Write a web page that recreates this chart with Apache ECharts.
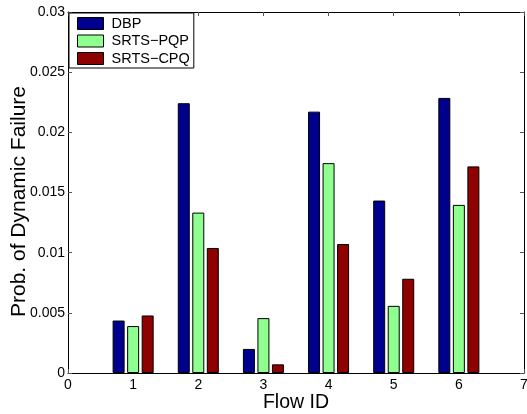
<!DOCTYPE html>
<html>
<head>
<meta charset="utf-8">
<script src="https://cdn.jsdelivr.net/npm/echarts@6/dist/echarts.min.js"></script>
<style>
  html, body { margin: 0; padding: 0; background: #fff; }
  #chart { width: 527px; height: 414px; }
</style>
</head>
<body>
<div id="chart"></div>
<script>
// Flow IDs and per-scheme probability of dynamic failure
const flowIds = [1, 2, 3, 4, 5, 6];
const seriesNames = ['DBP', 'SRTS\u2212PQP', 'SRTS\u2212CPQ'];
const dbp     = [0.00436, 0.02242, 0.00200, 0.02172, 0.01433, 0.02286];
const srtsPqp = [0.00390, 0.01333, 0.00456, 0.01744, 0.00558, 0.01397];
const srtsCpq = [0.00478, 0.01039, 0.00072, 0.01072, 0.00783, 0.01717];
const colors  = ['#00008f', '#8fff8f', '#8f0000'];

const FONT = '"Liberation Sans", Arial, Helvetica, sans-serif';

const pairs = vals => flowIds.map((id, i) => [id, vals[i]]);

const chart = echarts.init(document.getElementById('chart'), null, { renderer: 'canvas' });

const axisLine = { show: true, onZero: false, lineStyle: { color: '#000', width: 1 } };
const tickStyle = { show: true, inside: true, length: 4, lineStyle: { color: '#555', width: 1 } };

chart.setOption({
  animation: false,
  backgroundColor: '#fff',
  textStyle: { fontFamily: FONT },
  grid: { left: 68, top: 12, right: 3, bottom: 41, containLabel: false, outerBoundsMode: 'none' },
  legend: {
    data: seriesNames,
    orient: 'vertical',
    left: 69, top: 13,
    backgroundColor: '#fff',
    borderColor: '#000', borderWidth: 1,
    padding: [3, 4, 2, 8],
    itemWidth: 26, itemHeight: 12, itemGap: 2.5,
    icon: 'rect',
    itemStyle: { borderColor: '#000', borderWidth: 1 },
    textStyle: { fontFamily: FONT, fontSize: 14.5, color: '#000', lineHeight: 14, padding: [0, 0, 0, 3] }
  },
  xAxis: [{
    type: 'value', min: 0, max: 7, interval: 1, position: 'bottom',
    name: 'Flow ID', nameLocation: 'middle', nameGap: 20, nameMoveOverlap: false,
    nameTextStyle: { fontFamily: FONT, fontSize: 19.5, color: '#000' },
    axisLine, axisTick: tickStyle,
    axisLabel: { fontFamily: FONT, fontSize: 14, color: '#000', margin: 5 },
    splitLine: { show: false }
  }, {
    type: 'value', min: 0, max: 7, interval: 1, position: 'top',
    axisLine, axisTick: tickStyle,
    axisLabel: { show: false }, splitLine: { show: false }
  }],
  yAxis: [{
    type: 'value', min: 0, max: 0.03, interval: 0.005, position: 'left',
    name: 'Prob. of Dynamic Failure', nameLocation: 'middle', nameGap: 38, nameMoveOverlap: false,
    nameTextStyle: { fontFamily: FONT, fontSize: 21, color: '#000', padding: [0, 18, 0, 0] },
    axisLine, axisTick: tickStyle,
    axisLabel: { fontFamily: FONT, fontSize: 14, color: '#000', margin: 3 },
    splitLine: { show: false }
  }, {
    type: 'value', min: 0, max: 0.03, interval: 0.005, position: 'right',
    axisLine, axisTick: tickStyle,
    axisLabel: { show: false }, splitLine: { show: false }
  }],
  series: [dbp, srtsPqp, srtsCpq].map((vals, k) => ({
    name: seriesNames[k],
    type: 'bar',
    xAxisIndex: 0, yAxisIndex: 0,
    data: pairs(vals),
    barWidth: 12,
    barGap: '21%',
    itemStyle: { color: colors[k], borderColor: '#000', borderWidth: 1 }
  }))
});
</script>
</body>
</html>
